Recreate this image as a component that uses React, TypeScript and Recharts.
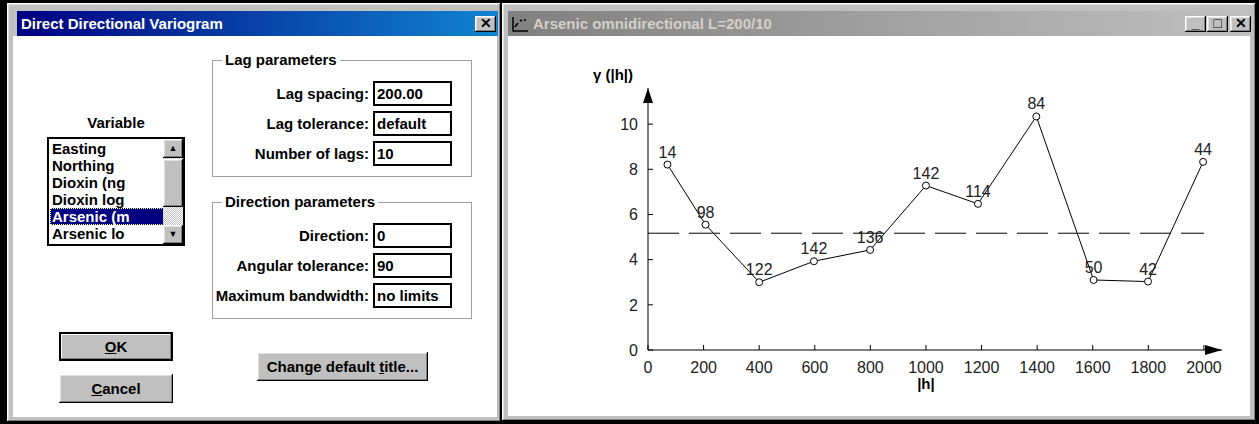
import React from "react";
import { LineChart, Line, XAxis, YAxis, ReferenceLine, ReferenceDot, LabelList } from "recharts";

// lag centres, semivariogram values and pair counts
const lagDistance = [70, 207, 400, 597, 799, 1000, 1187, 1397, 1603, 1799, 1997];
const gammaValues = [8.21, 5.55, 3.0, 3.93, 4.43, 7.28, 6.47, 10.34, 3.1, 3.03, 8.33];
const pairCounts = [14, 98, 122, 142, 136, 142, 114, 84, 50, 42, 44];
const sillValue = 5.17;

const xTicks = [0, 200, 400, 600, 800, 1000, 1200, 1400, 1600, 1800, 2000];
const yTicks = [0, 2, 4, 6, 8, 10];
const xMax = 2065;
const yMax = 11.6;

const variableNames = ["Easting", "Northing", "Dioxin (ng", "Dioxin log", "Arsenic (m", "Arsenic lo"];
const lagFields = [["Lag spacing:", "200.00"], ["Lag tolerance:", "default"], ["Number of lags:", "10"]];
const directionFields = [["Direction:", "0"], ["Angular tolerance:", "90"], ["Maximum bandwidth:", "no limits"]];

const data = lagDistance.map((h, i) => ({ h, gamma: gammaValues[i], pairs: pairCounts[i] }));

const FONT = "'Liberation Sans', Arial, Helvetica, sans-serif";
const raised = "inset -1px -1px #000, inset 1px 1px #fff, inset -2px -2px #808080, inset 2px 2px #dfdfdf";

const abs = (left: number, top: number, width: number, height: number): React.CSSProperties => ({
    position: "absolute",
    left,
    top,
    width,
    height,
    boxSizing: "border-box",
});

const XTick = (props: any) => {
    const { x, y, payload } = props;
    return (
        <g>
            <line x1={x} x2={x} y1={y} y2={y - 5} stroke="#000" />
            <text x={x} y={y + 12} dy="0.71em" textAnchor="middle" fontSize={16} fill="#222" fontFamily={FONT}>
                {payload.value}
            </text>
        </g>
    );
};

const YTick = (props: any) => {
    const { x, y, payload } = props;
    return (
        <g>
            <line x1={x} x2={x + 5} y1={y} y2={y} stroke="#000" />
            <text x={x - 10} y={y} dy="0.355em" textAnchor="end" fontSize={16} fill="#222" fontFamily={FONT}>
                {payload.value}
            </text>
        </g>
    );
};

const UpArrow = (props: any) => {
    const { cx, cy } = props;
    return (
        <g>
            <polygon points={`${cx},${cy} ${cx - 5},${cy + 15} ${cx + 5},${cy + 15}`} fill="#000" />
            <text x={cx - 35} y={cy - 8} textAnchor="middle" fontSize={15} fontWeight="bold" fill="#000" fontFamily={FONT}>
                γ (|h|)
            </text>
        </g>
    );
};

const RightArrow = (props: any) => {
    const { cx, cy } = props;
    return <polygon points={`${cx},${cy} ${cx - 17},${cy - 5} ${cx - 17},${cy + 5}`} fill="#000" />;
};

const XTitle = (props: any) => {
    const { cx, cy } = props;
    return (
        <text x={cx} y={cy + 39} textAnchor="middle" fontSize={15} fontWeight="bold" fill="#000" fontFamily={FONT}>
            |h|
        </text>
    );
};

const VariogramChart = () => (
    <LineChart width={690} height={350} data={data} margin={{ top: 28, right: 28, bottom: 0, left: 0 }}>
        <XAxis
            type="number"
            dataKey="h"
            domain={[0, xMax]}
            ticks={xTicks}
            allowDataOverflow
            height={60}
            tickSize={0}
            tickMargin={0}
            tickLine={false}
            tick={XTick}
            axisLine={{ stroke: "#000" }}
        />
        <YAxis
            type="number"
            domain={[0, yMax]}
            ticks={yTicks}
            allowDataOverflow
            width={88}
            tickSize={0}
            tickMargin={0}
            tickLine={false}
            tick={YTick}
            axisLine={{ stroke: "#000" }}
        />
        <ReferenceLine
            segment={[{ x: 0, y: sillValue }, { x: 2000, y: sillValue }]}
            stroke="#000"
            strokeDasharray="31 10"
        />
        <Line
            dataKey="gamma"
            stroke="#000"
            strokeWidth={1}
            dot={{ r: 3.5, fill: "#fff", stroke: "#000", strokeWidth: 1 }}
            activeDot={false}
            isAnimationActive={false}
        >
            <LabelList dataKey="pairs" position="top" offset={7} fill="#222" fontSize={16} fontFamily={FONT} />
        </Line>
        <ReferenceDot x={0} y={yMax} r={0} shape={UpArrow} ifOverflow="visible" />
        <ReferenceDot x={xMax} y={0} r={0} shape={RightArrow} ifOverflow="visible" />
        <ReferenceDot x={1000} y={0} r={0} shape={XTitle} ifOverflow="visible" />
    </LineChart>
);

const Button = ({ left, top, width, label, hot, isDefault }: any) => (
    <div
        style={{
            ...abs(left, top, width, 29),
            background: "#c0c0c0",
            boxShadow: isDefault ? "inset 0 0 0 2px #000, inset -3px -3px #808080, inset 3px 3px #fff" : raised,
            fontWeight: "bold",
            fontSize: 15,
            display: "flex",
            alignItems: "center",
            justifyContent: "center",
            color: "#000",
        }}
    >
        <span>
            {label.slice(0, hot)}
            <u>{label[hot]}</u>
            {label.slice(hot + 1)}
        </span>
    </div>
);

const Field = ({ label, value, top }: any) => (
    <>
        <div style={{ ...abs(212, top, 157, 25), textAlign: "right", lineHeight: "25px" }}>{label}</div>
        <div
            style={{
                ...abs(373, top, 79, 25),
                border: "2px solid #000",
                background: "#fff",
                lineHeight: "21px",
                paddingLeft: 2,
            }}
        >
            {value}
        </div>
    </>
);

const GroupBox = ({ title, top, fields }: any) => (
    <>
        <div style={{ ...abs(212, top, 260, 117), border: "1px solid #a0a0a0", boxShadow: "1px 1px #fff, inset 1px 1px #fff" }} />
        <div style={{ ...abs(222, top - 9, 200, 18), lineHeight: "18px" }}>
            <span style={{ background: "#fff", padding: "0 3px" }}>{title}</span>
        </div>
        {fields.map((f: string[], i: number) => (
            <Field key={f[0]} label={f[0]} value={f[1]} top={top + 21 + i * 30} />
        ))}
    </>
);

const CaptionButton = ({ left, glyph }: any) => (
    <div
        style={{
            ...abs(left, 16, 21, 16),
            background: "#c0c0c0",
            boxShadow: raised,
            fontSize: 14,
            fontWeight: "bold",
            lineHeight: "15px",
            textAlign: "center",
            color: "#000",
        }}
    >
        {glyph}
    </div>
);

export default function App() {
    return (
        <div
            style={{
                ...abs(0, 0, 1259, 424),
                background: "#000",
                overflow: "hidden",
                fontFamily: FONT,
                fontWeight: "bold",
                fontSize: 15,
                color: "#000",
            }}
        >
            {/* dialog window */}
            <div style={{ ...abs(7, 3, 494, 419), background: "#c0c0c0", boxShadow: raised }} />
            <div style={{ ...abs(13, 36, 484, 381), background: "#fff" }} />
            <div
                style={{
                    ...abs(17, 11, 481, 25),
                    background: "linear-gradient(to right, #000080, #1084d0)",
                    color: "#fff",
                    lineHeight: "25px",
                    paddingLeft: 4,
                }}
            >
                Direct Directional Variogram
            </div>
            <CaptionButton left={475} glyph="✕" />

            <div style={{ ...abs(47, 114, 138, 20), textAlign: "center" }}>Variable</div>
            <div style={{ ...abs(47, 137, 138, 109), border: "2px solid #000", background: "#fff", overflow: "hidden" }}>
                {variableNames.map((v, i) => (
                    <div
                        key={v}
                        style={{
                            ...abs(1, 1 + i * 17, 114, 17),
                            lineHeight: "17px",
                            paddingLeft: 2,
                            background: i === 4 ? "#000080" : "transparent",
                            color: i === 4 ? "#fff" : "#000",
                            outline: i === 4 ? "1px dotted #ffff80" : "none",
                            outlineOffset: -1,
                        }}
                    >
                        {v}
                    </div>
                ))}
                <div style={{ ...abs(114, 0, 20, 105), background: "repeating-conic-gradient(#c0c0c0 0 25%, #fff 0 50%) 0 0 / 2px 2px" }} />
                <div style={{ ...abs(114, 0, 20, 19), background: "#c0c0c0", boxShadow: raised, fontSize: 9, textAlign: "center", lineHeight: "19px" }}>▲</div>
                <div style={{ ...abs(114, 20, 20, 48), background: "#c0c0c0", boxShadow: raised }} />
                <div style={{ ...abs(114, 86, 20, 19), background: "#c0c0c0", boxShadow: raised, fontSize: 9, textAlign: "center", lineHeight: "19px" }}>▼</div>
            </div>

            <GroupBox title="Lag parameters" top={60} fields={lagFields} />
            <GroupBox title="Direction parameters" top={202} fields={directionFields} />

            <Button left={59} top={332} width={114} label="OK" hot={0} isDefault />
            <Button left={59} top={374} width={114} label="Cancel" hot={0} />
            <Button left={257} top={352} width={171} label="Change default title..." hot={15} />

            {/* variogram window */}
            <div style={{ ...abs(502, 3, 754, 418), background: "#c0c0c0", boxShadow: raised }} />
            <div style={{ ...abs(508, 36, 742, 380), background: "#fff" }} />
            <div
                style={{
                    ...abs(508, 11, 744, 25),
                    background: "linear-gradient(to right, #808080, #c0c0c0)",
                    color: "#d4d0c8",
                    lineHeight: "25px",
                    paddingLeft: 25,
                }}
            >
                Arsenic omnidirectional L=200/10
            </div>
            <svg style={abs(511, 15, 18, 18)} viewBox="0 0 18 18">
                <path d="M2 2 V16 H17" stroke="#000" strokeWidth={1.5} fill="none" />
                <path d="M4 12 L7 8 M9 6 L11 5 M13 5 L15 5" stroke="#000" strokeWidth={1.5} fill="none" />
            </svg>
            <CaptionButton left={1185} glyph="_" />
            <CaptionButton left={1207} glyph="□" />
            <CaptionButton left={1230} glyph="✕" />

            <div style={{ ...abs(560, 60, 690, 350), fontWeight: "normal" }}>
                <VariogramChart />
            </div>
        </div>
    );
}
